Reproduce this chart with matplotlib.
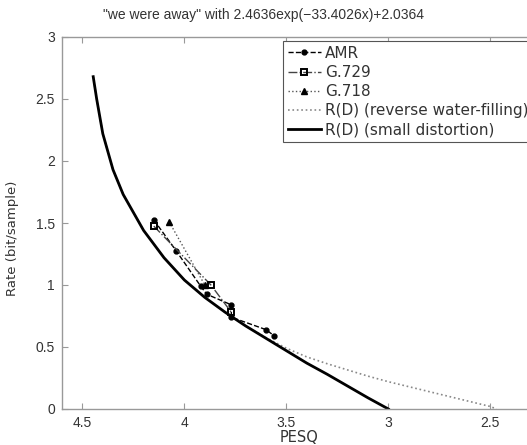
import matplotlib
matplotlib.use("Agg")
import matplotlib.pyplot as plt

plt.rcParams['font.family'] = ['Liberation Sans', 'DejaVu Sans']

# --- data ---
amr_pesq = [4.15, 4.04, 3.92, 3.89, 3.77, 3.77, 3.60, 3.56]
amr_rate = [1.525, 1.275, 0.99, 0.925, 0.84, 0.74, 0.64, 0.59]

g729_pesq = [4.15, 3.87, 3.77]
g729_rate = [1.475, 1.0, 0.78]

g718_pesq = [4.075, 3.90]
g718_rate = [1.51, 1.0]

rwf_pesq = [4.447, 4.43, 4.40, 4.35, 4.30, 4.20, 4.10, 4.00, 3.90, 3.80, 3.70,
            3.60, 3.50, 3.40, 3.30, 3.20, 3.10, 3.00, 2.90, 2.80, 2.70, 2.60,
            2.50, 2.47]
rwf_rate = [2.68, 2.50, 2.22, 1.93, 1.73, 1.44, 1.22, 1.04, 0.90, 0.78, 0.67,
            0.575, 0.49, 0.42, 0.365, 0.315, 0.265, 0.22, 0.18, 0.14, 0.10,
            0.06, 0.02, 0.0]

sd_pesq = [4.447, 4.43, 4.40, 4.35, 4.30, 4.20, 4.10, 4.00, 3.90, 3.80, 3.70,
           3.60, 3.50, 3.40, 3.30, 3.20, 3.10, 3.00]
sd_rate = [2.68, 2.50, 2.22, 1.93, 1.73, 1.44, 1.22, 1.04, 0.90, 0.78, 0.67,
           0.57, 0.47, 0.37, 0.28, 0.185, 0.09, 0.0]

xticks = [4.5, 4, 3.5, 3, 2.5]
xticklabels = ['4.5', '4', '3.5', '3', '2.5']
yticks = [0, 0.5, 1, 1.5, 2, 2.5, 3]
yticklabels = ['0', '0.5', '1', '1.5', '2', '2.5', '3']

W, H = 527, 445
fig = plt.figure(figsize=(W / 100, H / 100), dpi=100)
ax = fig.add_axes([62 / W, 1 - 409 / H, (537 - 62) / W, (409 - 37) / H])

ax.plot(amr_pesq, amr_rate, linestyle='--', color='black', marker='o',
        markersize=3.5, markerfacecolor='black', linewidth=1.0, label='AMR')
ax.plot(g729_pesq, g729_rate, linestyle='-.', color='#444444', marker='s',
        markersize=4.5, markerfacecolor='none', markeredgecolor='black',
        markeredgewidth=1.4, linewidth=1.0, label='G.729')
ax.plot(g718_pesq, g718_rate, linestyle=':', color='#555555', marker='^',
        markersize=4.5, markerfacecolor='black', markeredgecolor='black',
        linewidth=1.0, label='G.718')
ax.plot(rwf_pesq, rwf_rate, linestyle=':', color='#888888', linewidth=1.2,
        label='R(D) (reverse water-filling)')
ax.plot(sd_pesq, sd_rate, linestyle='-', color='black', linewidth=2.0,
        label='R(D) (small distortion)')

ax.set_xlim(4.6, 4.6 - (537 - 62) / 204)
ax.set_ylim(0, 3)
ax.set_xticks(xticks)
ax.set_xticklabels(xticklabels)
ax.set_yticks(yticks)
ax.set_yticklabels(yticklabels)
ax.tick_params(direction='in', top=True, right=True, length=4, width=0.8,
               colors='#999999', labelcolor='#333333', labelsize=10, pad=5)
for s in ax.spines.values():
    s.set_color('#999999')
    s.set_linewidth(1.0)

ax.set_xlabel('PESQ', fontsize=10.5, color='#333333', labelpad=0,
              family=['DejaVu Sans'])
ax.set_ylabel('Rate (bit/sample)', fontsize=9.5, color='#333333',
              family=['DejaVu Sans'])
ax.yaxis.set_label_coords(-0.091, 0.46)
fig.text(0.5, 1 - 15 / H, '"we were away" with 2.4636exp(\u221233.4026x)+2.0364',
         ha='center', va='center', fontsize=10, color='#333333')

leg = ax.legend(loc='upper left', bbox_to_anchor=(283 / W, 1 - 41 / H),
                bbox_transform=fig.transFigure, frameon=True,
                prop={'family': 'DejaVu Sans', 'size': 11},
                fancybox=False, framealpha=1, edgecolor='#555555',
                handlelength=2.2, handletextpad=0.25, labelspacing=0.28,
                borderpad=0.3, borderaxespad=0)
leg.get_frame().set_linewidth(0.8)
for t in leg.get_texts():
    t.set_color('#333333')

fig.savefig('out.png', dpi=100)
